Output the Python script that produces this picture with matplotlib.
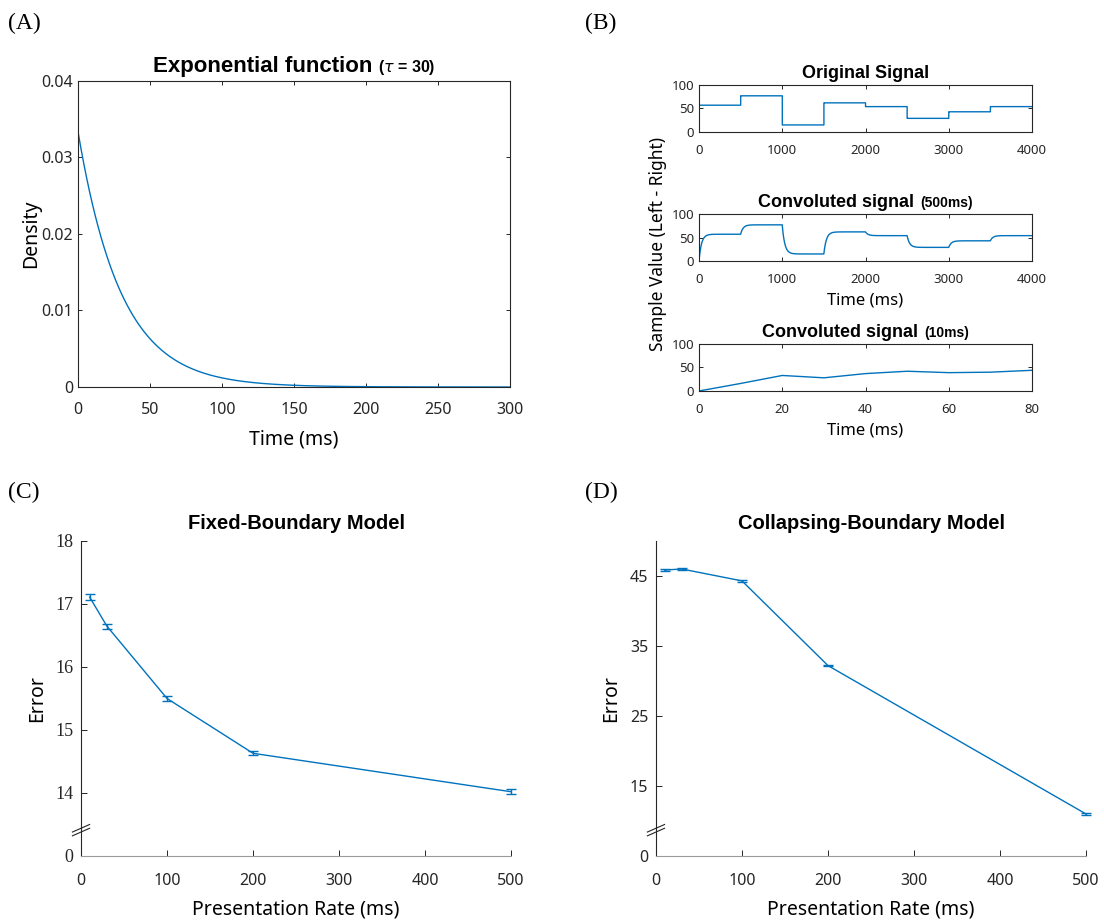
import numpy as np
import matplotlib
matplotlib.use("Agg")
import matplotlib.pyplot as plt
from matplotlib.offsetbox import TextArea, HPacker, AnchoredOffsetbox

# exponential kernel
tau = 30
kernel_time = np.arange(0, 301)

# original stimulus: one level every 500 ms
step_ms = 500
signal_levels = [57, 77, 15, 62, 54, 29, 43, 54]

# fast presentation (10 ms) after convolution
fast_time = [0, 10, 20, 30, 40, 50, 60, 70, 80]
fast_values = [0, 16, 33, 28, 37, 42, 39, 40, 44]

# model errors vs presentation rate
rates = [10, 30, 100, 200, 500]
fixed_error = [17.11, 16.65, 15.50, 14.63, 14.02]
fixed_sem = [0.05, 0.04, 0.035, 0.035, 0.04]
collapse_error = [45.85, 46.0, 44.3, 32.2, 11.0]
collapse_sem = [0.15, 0.15, 0.15, 0.12, 0.12]

BLUE = "#0072BD"
AXC = "#262626"
SANS = ["Noto Sans", "DejaVu Sans"]
BOLD = ["Liberation Sans", "DejaVu Sans"]
SERIF = ["Liberation Serif", "DejaVu Serif"]

plt.rcParams["font.family"] = SANS
plt.rcParams["axes.edgecolor"] = AXC
plt.rcParams["xtick.color"] = AXC
plt.rcParams["ytick.color"] = AXC
plt.rcParams["xtick.direction"] = "in"
plt.rcParams["ytick.direction"] = "in"
plt.rcParams["axes.linewidth"] = 0.8

fig = plt.figure(figsize=(11.04, 9.21), dpi=100)


def title_parts(ax, main, sub, main_size, sub_size, pad=4):
    parts = [TextArea(main, textprops=dict(fontsize=main_size, fontweight="bold",
                                           family=BOLD, color="black"))]
    if sub:
        parts.append(TextArea(sub, textprops=dict(fontsize=sub_size, fontweight="bold",
                                                  family=BOLD, color="black")))
    box = HPacker(children=parts, align="baseline", pad=0, sep=4)
    lift = pad / (ax.get_position().height * 921)
    anchored = AnchoredOffsetbox(loc="lower center", child=box, pad=0, frameon=False,
                                 bbox_to_anchor=(0.5, 1.0 + lift),
                                 bbox_transform=ax.transAxes, borderpad=0)
    anchored.set_clip_on(False)
    ax.add_artist(anchored)


def boxed(ax, size, xpad):
    ax.tick_params(top=True, right=True, labelsize=size, length=3, width=0.7)
    ax.tick_params(axis="x", pad=xpad)


def broken_axis(ax, frac):
    # double slash across the left spine
    for dy in (0.0, 0.012):
        ax.plot([-0.02, 0.02], [frac - 0.012 + dy, frac + 0.012 + dy],
                transform=ax.transAxes, color=AXC, lw=0.8, clip_on=False)


# (A) exponential density
ax_a = fig.add_axes([0.0707, 0.5798, 0.3913, 0.3323])
ax_a.plot(kernel_time, np.exp(-kernel_time / tau) / tau, color=BLUE, lw=1.0)
ax_a.set_xlim(0, 300)
ax_a.set_ylim(0, 0.04)
ax_a.set_xticks(np.arange(0, 301, 50))
ax_a.set_yticks([0, 0.01, 0.02, 0.03, 0.04])
ax_a.set_yticklabels(["0", "0.01", "0.02", "0.03", "0.04"])
boxed(ax_a, 11.5, 11)
ax_a.set_xlabel("Time (ms)", fontsize=14, labelpad=8)
ax_a.set_ylabel("Density", fontsize=14, labelpad=0)
title_parts(ax_a, "Exponential function", r"($\tau$ = 30)", 16, 11.5)

# (B) signals
t_full = np.arange(0, step_ms * len(signal_levels) + 1)
original = np.array(signal_levels)[np.minimum(t_full // step_ms, len(signal_levels) - 1)]
weights = np.exp(-kernel_time / tau)
weights = weights / weights.sum()
convolved = np.convolve(original, weights)[:len(t_full)]

b_rects = [[0.6332, 0.8567, 0.3016, 0.0510],
           [0.6332, 0.7166, 0.3016, 0.0510],
           [0.6332, 0.5755, 0.3016, 0.0510]]
ax_b1 = fig.add_axes(b_rects[0])
ax_b1.step(t_full, original, where="post", color=BLUE, lw=1.0)
ax_b2 = fig.add_axes(b_rects[1])
ax_b2.plot(t_full, convolved, color=BLUE, lw=1.0)
ax_b3 = fig.add_axes(b_rects[2])
ax_b3.plot(fast_time, fast_values, color=BLUE, lw=1.0)

for ax in (ax_b1, ax_b2):
    ax.set_xlim(0, 4000)
    ax.set_xticks(np.arange(0, 4001, 1000))
ax_b3.set_xlim(0, 80)
ax_b3.set_xticks(np.arange(0, 81, 20))
for ax in (ax_b1, ax_b2, ax_b3):
    ax.set_ylim(0, 100)
    ax.set_yticks([0, 50, 100])
    boxed(ax, 9.5, 8.5)
ax_b2.set_xlabel("Time (ms)", fontsize=12, labelpad=5)
ax_b3.set_xlabel("Time (ms)", fontsize=12, labelpad=5)
title_parts(ax_b1, "Original Signal", "", 13, 10, pad=3)
title_parts(ax_b2, "Convoluted signal", "(500ms)", 13, 10, pad=3)
title_parts(ax_b3, "Convoluted signal", "(10ms)", 13, 10, pad=3)
fig.text(0.596, 0.735, "Sample Value (Left - Right)", rotation=90,
         ha="center", va="center", fontsize=12.5)

# (C) and (D) model errors
def error_panel(rect, errors, sems, ylim, ticks, labels, title, serif_y):
    ax = fig.add_axes(rect)
    ax.errorbar(rates, errors, yerr=sems, color=BLUE, lw=1.0, capsize=3.5,
                elinewidth=1.0, capthick=1.0, clip_on=False)
    ax.set_xlim(0, 500)
    ax.set_ylim(*ylim)
    ax.set_xticks(np.arange(0, 501, 100))
    ax.set_yticks(ticks)
    ax.set_yticklabels(labels)
    ax.spines["top"].set_visible(False)
    ax.spines["right"].set_visible(False)
    ax.spines["bottom"].set_color("#9a9a9a")
    ax.tick_params(labelsize=11.5, length=4, width=0.7)
    ax.tick_params(axis="x", pad=12)
    ax.tick_params(axis="y", pad=5.5)
    if serif_y:
        for lab in ax.get_yticklabels():
            lab.set_family(SERIF)
            lab.set_fontsize(13)
    ax.set_xlabel("Presentation Rate (ms)", fontsize=14, labelpad=8)
    ax.set_ylabel("Error", fontsize=14, labelpad=6)
    title_parts(ax, title, "", 14.5, 10, pad=8)
    broken_axis(ax, 0.076)
    return ax


ax_c = error_panel([0.0734, 0.0706, 0.3895, 0.3420], fixed_error, fixed_sem,
                   (13, 18), [13, 14, 15, 16, 17, 18],
                   ["0", "14", "15", "16", "17", "18"], "Fixed-Boundary Model", True)
ax_d = error_panel([0.5942, 0.0706, 0.3895, 0.3420], collapse_error, collapse_sem,
                   (5, 50), [5, 15, 25, 35, 45],
                   ["0", "15", "25", "35", "45"], "Collapsing-Boundary Model", False)

for label, x, y in [("(A)", 0.007, 0.975), ("(B)", 0.53, 0.975),
                    ("(C)", 0.007, 0.465), ("(D)", 0.53, 0.465)]:
    fig.text(x, y, label, family=SERIF, fontsize=17, va="center")

fig.savefig("out.png", dpi=100)
